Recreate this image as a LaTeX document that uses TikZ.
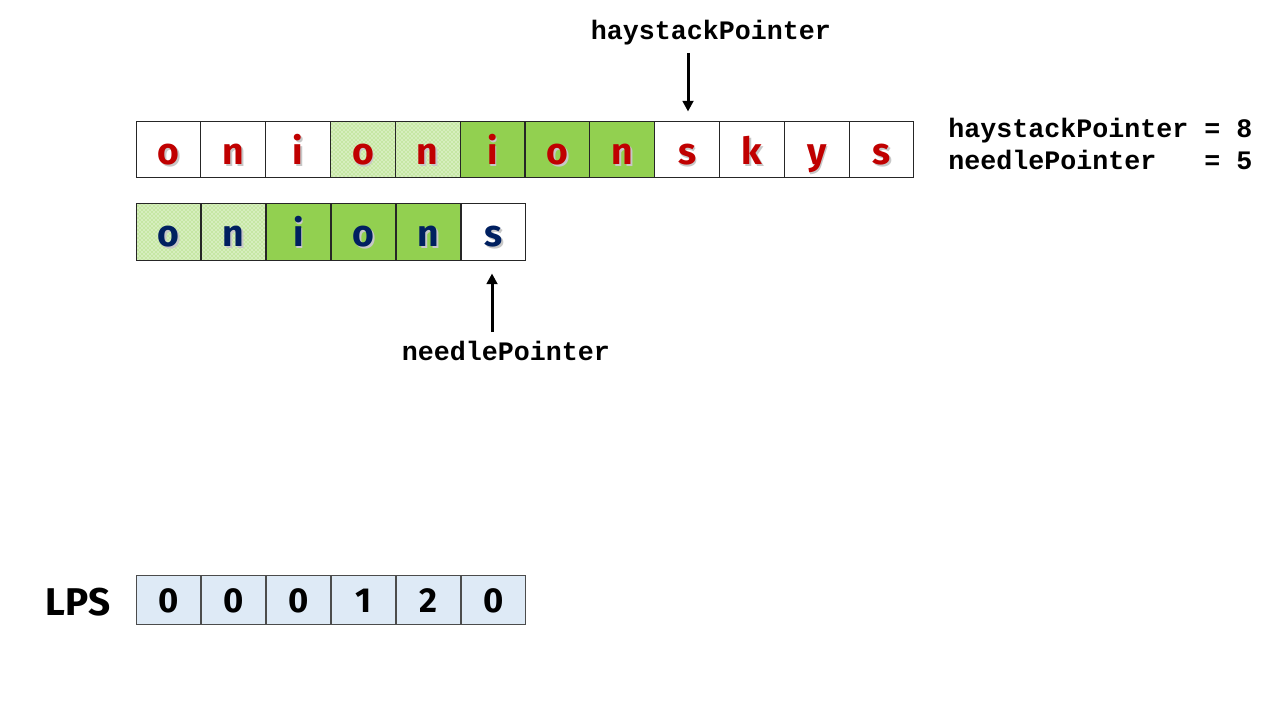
\documentclass[tikz,border=0pt]{standalone}
\usepackage{fontspec}
\setmainfont{Fira Sans}
\setmonofont{Liberation Mono}
\usetikzlibrary{patterns,arrows.meta}
\definecolor{lgreen}{HTML}{92D050}
\definecolor{pgreen}{HTML}{D6EEBE}
\definecolor{lblue}{HTML}{DEEAF6}
\definecolor{dred}{HTML}{C00000}
\definecolor{dblue}{HTML}{002060}
\newcommand\shtext[2]{\rlap{\kern1.2pt\raisebox{-1.2pt}{\textcolor{black!22}{#2}}}\textcolor{#1}{#2}}
\tikzset{
  cell/.style={draw=black!85, line width=0.75pt, minimum width=48.6pt, minimum height=42pt,
    inner sep=0pt, text height=23pt, text depth=0.5pt, font=\fontsize{28}{30}\selectfont\bfseries},
  lpscell/.style={draw=black!70, line width=0.75pt, fill=lblue, minimum width=48.6pt, minimum height=36.75pt,
    inner sep=0pt, text height=19pt, text depth=0.2pt, font=\fontsize{26}{28}\selectfont\bfseries},
  solid green/.style={fill=lgreen},
  dotted green/.style={preaction={fill=pgreen}, pattern=crosshatch dots, pattern color=lgreen},
  plain/.style={fill=white},
  mono/.style={font=\fontsize{20}{24}\selectfont\ttfamily\bfseries, inner sep=0pt},
  ptr/.style={line width=2.25pt, -{Triangle[length=8pt,width=8pt]}}
}
\begin{document}
\begin{tikzpicture}[x=0.75pt,y=-0.75pt]
\useasboundingbox (0,0) rectangle (1280,720);
% haystack
\foreach \i/\c/\s in {0/o/plain,1/n/plain,2/i/plain,3/o/dotted green,4/n/dotted green,5/i/solid green,6/o/solid green,7/n/solid green,8/s/plain,9/k/plain,10/y/plain,11/s/plain}{
  \node[cell,\s] (h\i) at ({136+64.83*(\i+0.5)},150) {\shtext{dred}{\c}};
}
% needle
\foreach \i/\c/\s in {0/o/dotted green,1/n/dotted green,2/i/solid green,3/o/solid green,4/n/solid green,5/s/plain}{
  \node[cell,\s] (n\i) at ({136+65*(\i+0.5)},232) {\shtext{dblue}{\c}};
}
% LPS
\foreach \i/\c in {0/0,1/0,2/0,3/1,4/2,5/0}{
  \node[lpscell] (l\i) at ({136+65*(\i+0.5)},599.5) {\c};
}
\node[anchor=base, inner sep=0pt, font=\fontsize{29}{31}\selectfont\bfseries] (lps) at (78,615) {LPS};
% pointer labels
\node[mono, anchor=base] (hsp) at (711,40) {haystackPointer};
\node[mono, anchor=base] (ndp) at (506,360) {needlePointer};
\node[mono, anchor=base west, align=left] (vals) at (948,170) {haystackPointer = 8\\needlePointer\ \ \ = 5};
% arrows
\coordinate (hstart) at (688,53);
\coordinate (nstart) at (492,332);
\draw[ptr, shorten >=7.5pt] (hstart) -- (hstart |- h8.north);
\draw[ptr, shorten >=9.75pt] (nstart) -- (nstart |- n5.south);
\end{tikzpicture}
\end{document}
